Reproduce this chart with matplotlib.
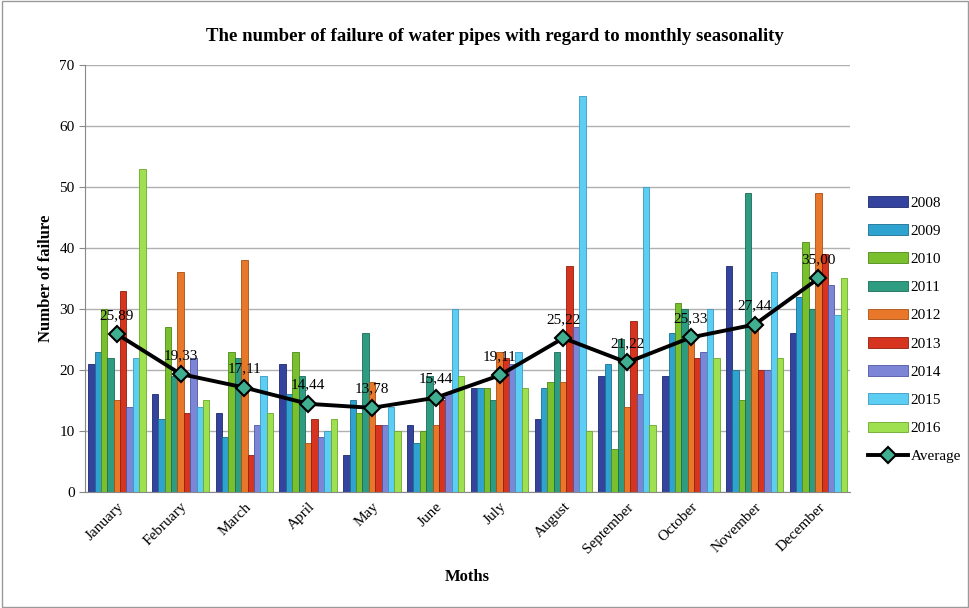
import numpy as np
import matplotlib
matplotlib.use("Agg")
import matplotlib.pyplot as plt
from matplotlib.patches import Rectangle

months = ["January", "February", "March", "April", "May", "June", "July",
          "August", "September", "October", "November", "December"]
years = ["2008", "2009", "2010", "2011", "2012", "2013", "2014", "2015", "2016"]

v2008 = [21, 16, 13, 21, 6, 11, 17, 12, 19, 19, 37, 26]
v2009 = [23, 12, 9, 16, 15, 8, 17, 17, 21, 26, 20, 32]
v2010 = [30, 27, 23, 23, 13, 10, 17, 18, 7, 31, 15, 41]
v2011 = [22, 19, 22, 19, 26, 19, 15, 23, 25, 30, 49, 30]
v2012 = [15, 36, 38, 8, 18, 11, 23, 18, 14, 25, 28, 49]
v2013 = [33, 13, 6, 12, 11, 15, 22, 37, 28, 22, 20, 39]
v2014 = [14, 22, 11, 9, 11, 16, 21, 27, 16, 23, 20, 34]
v2015 = [22, 14, 19, 10, 14, 30, 23, 65, 50, 30, 36, 29]
v2016 = [53, 15, 13, 12, 10, 19, 17, 10, 11, 22, 22, 35]
average = [25.89, 19.33, 17.11, 14.44, 13.78, 15.44, 19.11, 25.22, 21.22, 25.33, 27.44, 35.00]

series = [v2008, v2009, v2010, v2011, v2012, v2013, v2014, v2015, v2016]
colors = ["#34449e", "#2fa3cf", "#79bf2e", "#2e9c80", "#e8772a", "#d6341f",
          "#7d86d6", "#5ccdf3", "#9ee04f"]
edges = ["#1f2a6b", "#1d6f8f", "#4d8a18", "#1c6b57", "#a94f12", "#8f1e10",
         "#4e56a0", "#3a9ac0", "#6aa82a"]

plt.rcParams['font.family'] = ['Liberation Serif', 'DejaVu Serif']

fig = plt.figure(figsize=(9.70, 6.08), dpi=100)
ax = fig.add_axes([0.0876, 0.191, 0.789, 0.702])

n = len(series)
x = np.arange(len(months))
group_w = 0.9
bw = group_w / n
handles = []
for i, (vals, c, ec, yr) in enumerate(zip(series, colors, edges, years)):
    b = ax.bar(x - group_w / 2 + bw * (i + 0.5), vals, width=bw, color=c,
               edgecolor=ec, linewidth=0.6, label=yr, zorder=2)
    handles.append(b)

ln, = ax.plot(x, average, color="black", linewidth=2.8, marker="D", markersize=8,
              markerfacecolor="#3fae91", markeredgecolor="black", markeredgewidth=1.5,
              label="Average", zorder=4)
handles.append(ln)
for xi, a in zip(x, average):
    ax.text(xi, a + 2.0, f"{a:.2f}".replace(".", ","), ha="center", va="bottom",
            fontsize=11, zorder=5)

ax.set_xlim(-0.5, len(months) - 0.5)
ax.set_ylim(0, 70)
ax.set_yticks(range(0, 71, 10))
ax.yaxis.grid(True, color="#b0b0b0", linewidth=1.0, zorder=0)
ax.set_axisbelow(True)
ax.set_xticks(x)
ax.set_xticklabels(months, rotation=45, ha="right", rotation_mode="anchor", fontsize=11)
ax.tick_params(axis="y", labelsize=11, length=4, color="#888888")
ax.tick_params(axis="x", length=0, pad=6)
for s in ["top", "right"]:
    ax.spines[s].set_visible(False)
ax.spines["left"].set_color("#888888")
ax.spines["bottom"].set_color("#888888")

ax.set_ylabel("Number of failure", fontsize=12, fontweight="bold")
ax.set_xlabel("Moths", fontsize=12, fontweight="bold", labelpad=10)
fig.text(0.51, 0.94, "The number of failure of water pipes with regard to monthly seasonality",
         ha="center", va="center", fontsize=13.5, fontweight="bold")

ax.legend(handles=handles, labels=years + ["Average"], loc="center left",
          bbox_to_anchor=(1.005, 0.38), frameon=False,
          fontsize=11, handlelength=2.6, labelspacing=0.95, handletextpad=0.2)

fig.patches.append(Rectangle((0.002, 0.002), 0.996, 0.996, transform=fig.transFigure,
                             fill=False, edgecolor="#9a9a9a", linewidth=1.0))

fig.savefig("out.png", dpi=100)
